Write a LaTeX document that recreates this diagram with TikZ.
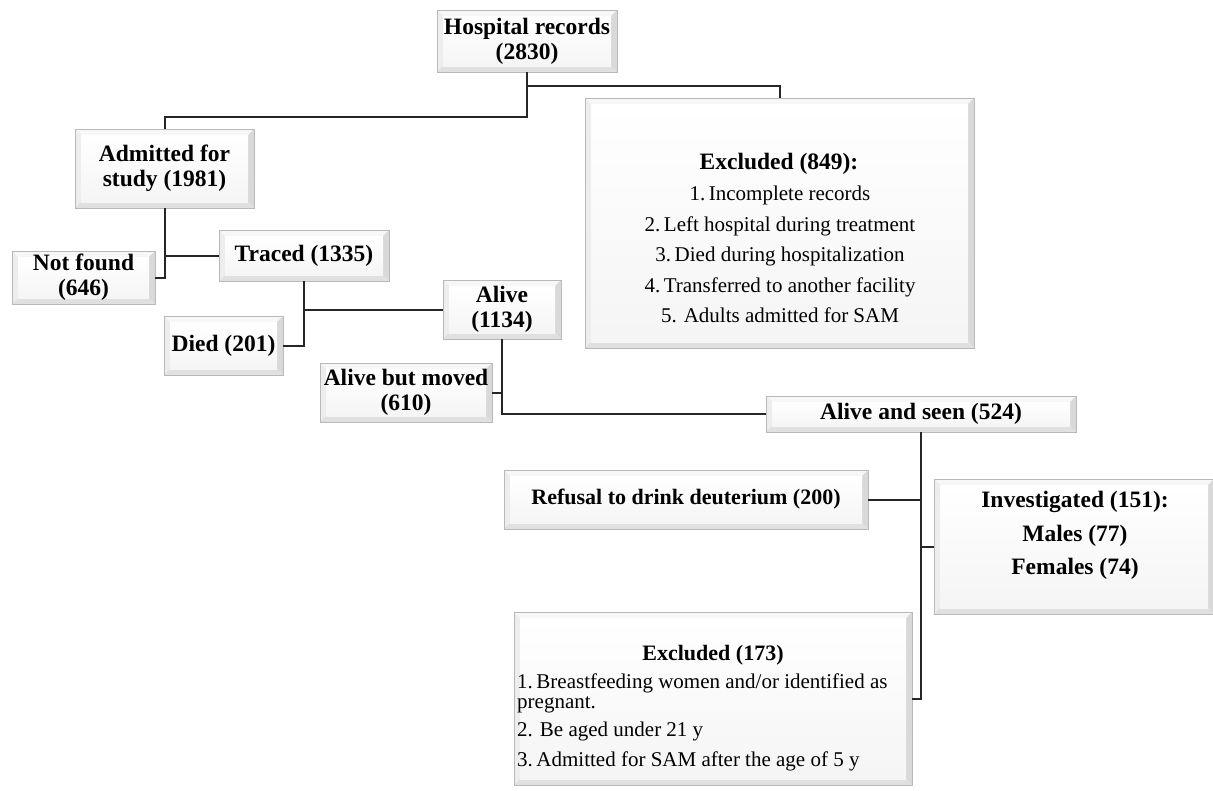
\documentclass[tikz,border=0pt]{standalone}
\usepackage{fontspec}
\setmainfont{Liberation Serif}
\usetikzlibrary{calc}
\newcommand\btf{\fontsize{23.5}{25}\selectfont\bfseries}
\newcommand\bsf{\fontsize{22}{25}\selectfont\bfseries}
\newcommand\rgf{\fontsize{21}{25}\selectfont}
\tikzset{
  bevel/.style={path picture={
    \fill[gray!6] (path picture bounding box.north west) -- (path picture bounding box.north east)
       -- ([shift={(-6pt,-6pt)}]path picture bounding box.north east)
       -- ([shift={(6pt,-6pt)}]path picture bounding box.north west) -- cycle;
    \fill[gray!14] (path picture bounding box.north west) -- (path picture bounding box.south west)
       -- ([shift={(6pt,6pt)}]path picture bounding box.south west)
       -- ([shift={(6pt,-6pt)}]path picture bounding box.north west) -- cycle;
    \fill[gray!30] (path picture bounding box.north east) -- (path picture bounding box.south east)
       -- ([shift={(-6pt,6pt)}]path picture bounding box.south east)
       -- ([shift={(-6pt,-6pt)}]path picture bounding box.north east) -- cycle;
    \fill[gray!24] (path picture bounding box.south west) -- (path picture bounding box.south east)
       -- ([shift={(-6pt,6pt)}]path picture bounding box.south east)
       -- ([shift={(6pt,6pt)}]path picture bounding box.south west) -- cycle;
    \shade[top color=white, bottom color=gray!8]
       ([shift={(6pt,6pt)}]path picture bounding box.south west) rectangle
       ([shift={(-6pt,-6pt)}]path picture bounding box.north east);
  }},
  bx/.style={draw=gray!55, line width=0.6pt, fill=gray!12, inner sep=0pt, align=center, font=\btf, bevel},
  ln/.style={draw=black!85, line width=2pt},
  txb/.style={font=\btf, inner sep=0pt},
  txr/.style={font=\rgf, inner sep=0pt},
}
\begin{document}
\begin{tikzpicture}[x=1pt,y=-1pt]
\useasboundingbox[fill=white] (0,0) rectangle (1213,790);

% boxes
\node[bx, minimum width=180pt, minimum height=62pt] (hosp) at (527,41) {Hospital records\\(2830)};
\node[bx, minimum width=389pt, minimum height=250pt] (exc1) at (779.5,223) {};
\node[bx, minimum width=179pt, minimum height=79pt] (adm) at (164.5,168.5) {Admitted for\\study (1981)};
\node[bx, minimum width=143pt, minimum height=53pt] (notf) at (83.5,277.5) {Not found\\(646)};
\node[bx, minimum width=170pt, minimum height=51pt] (traced) at (304,255.5) {Traced (1335)};
\node[bx, minimum width=119pt, minimum height=59pt] (died) at (223.5,345.5) {Died (201)};
\node[bx, minimum width=118pt, minimum height=59pt] (alive) at (502,309.5) {Alive\\(1134)};
\node[bx, minimum width=172pt, minimum height=59pt] (moved) at (406,392.5) {Alive but moved\\(610)};
\node[bx, minimum width=310pt, minimum height=36pt] (seen) at (921,414) {Alive and seen (524)};
\node[bx, minimum width=364pt, minimum height=59pt, font=\bsf] (refusal) at (686,499.5) {Refusal to drink deuterium (200)};
\node[bx, minimum width=280pt, minimum height=135pt] (invest) at (1074,546.5) {};
\node[bx, minimum width=398pt, minimum height=173pt] (exc2) at (713,698.5) {};

% texts of the large boxes
\node[txb, anchor=base] (e1t) at (779,169) {Excluded (849):};
\node[txr, anchor=base] (e1a) at (780,200) {1.\,Incomplete records};
\node[txr, anchor=base] (e1b) at (780,231) {2.\,Left hospital during treatment};
\node[txr, anchor=base] (e1c) at (780,261) {3.\,Died during hospitalization};
\node[txr, anchor=base] (e1d) at (780,292) {4.\,Transferred to another facility};
\node[txr, anchor=base] (e1e) at (780,322) {5. Adults admitted for SAM};

\node[txb, anchor=base] (it) at (1075,507) {Investigated (151):};
\node[txb, anchor=base] (im) at (1075,541) {Males (77)};
\node[txb, anchor=base] (if) at (1075,574) {Females (74)};

\node[txb, font=\bsf, anchor=base] (e2t) at (713,660) {Excluded (173)};
\node[txr, anchor=base west] (e2a) at (517,688) {1.\,Breastfeeding women and/or identified as};
\node[txr, anchor=base west] (e2b) at (517,708) {pregnant.};
\node[txr, anchor=base west] (e2c) at (517,736) {2. Be aged under 21 y};
\node[txr, anchor=base west] (e2d) at (517,766) {3.\,Admitted for SAM after the age of 5 y};

% connectors
\coordinate (hb) at ($(hosp.south)+(0,14)$);
\coordinate (ha) at ($(hosp.south)+(0,45)$);
\draw[ln] (hosp.south) -- (ha) -| (adm.north);
\draw[ln] (hb) -| (exc1.north);
\draw[ln] (adm.south) |- (notf.east);
\draw[ln] (adm.south |- traced.west) -- (traced.west);
\draw[ln] (traced.south) |- (died.east);
\draw[ln] (traced.south |- alive.west) -- (alive.west);
\draw[ln] (alive.south) |- (seen.west);
\draw[ln] (alive.south |- moved.east) -- (moved.east);
\draw[ln] (seen.south) |- (exc2.east);
\draw[ln] (seen.south |- refusal.east) -- (refusal.east);
\draw[ln] (seen.south |- invest.west) -- (invest.west);
\end{tikzpicture}
\end{document}
